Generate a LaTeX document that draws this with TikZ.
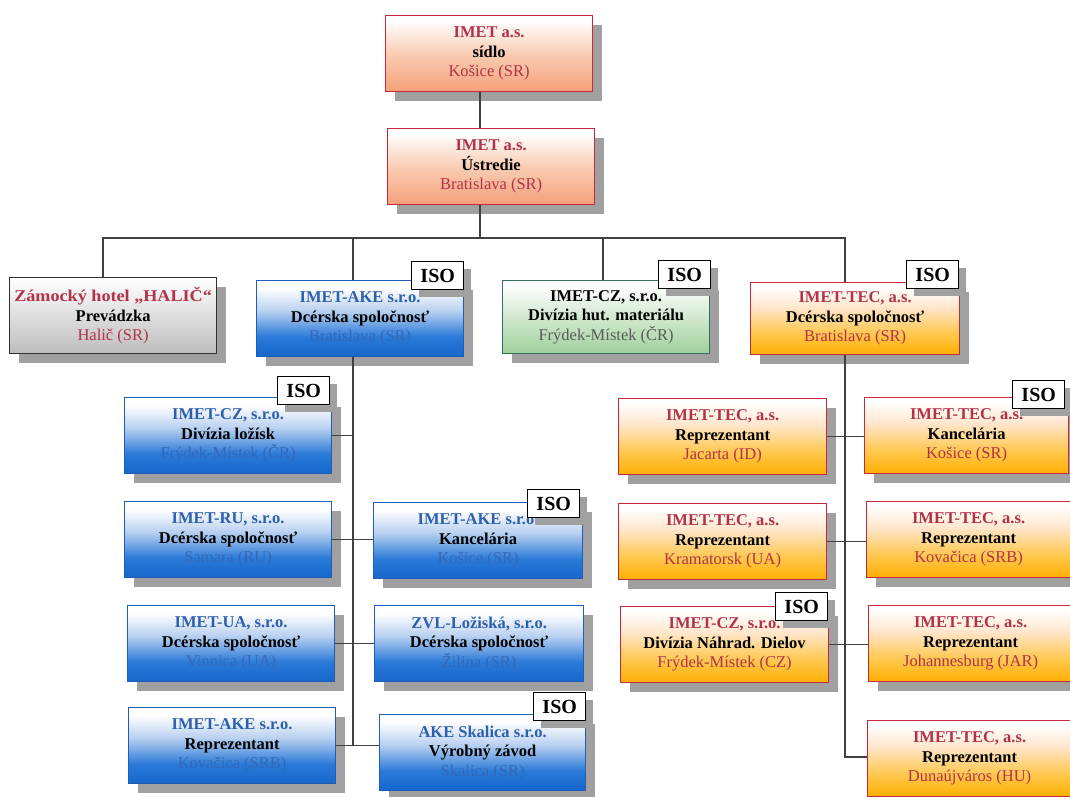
\documentclass[tikz,border=0pt]{standalone}
\usepackage{fontspec}
\setmainfont{Liberation Serif}
\usetikzlibrary{shadows}
\definecolor{redt}{HTML}{B2324A}
\definecolor{redb}{HTML}{C8283C}
\definecolor{bluet}{HTML}{2D5FAE}
\definecolor{bluet3}{HTML}{3567B5}
\definecolor{blueb}{HTML}{1E5DB8}
\definecolor{grayb}{HTML}{303030}
\definecolor{greenb}{HTML}{2F6F66}
\definecolor{greent3}{HTML}{5A5A5A}
\definecolor{shadowgray}{HTML}{A0A0A0}
\definecolor{linegray}{HTML}{404040}
\definecolor{sal}{HTML}{F4A078}
\definecolor{salmid}{HTML}{F9CDB4}
\definecolor{bdeep}{HTML}{1667CC}
\definecolor{bmid}{HTML}{2A7AD8}
\definecolor{blight}{HTML}{B8D0F0}
\definecolor{amber}{HTML}{FFB000}
\definecolor{ambmid}{HTML}{FFC850}
\definecolor{amblight}{HTML}{FFE6CC}
\definecolor{grdeep}{HTML}{BDBDBD}
\definecolor{gndeep}{HTML}{9FD09A}
\pgfdeclareverticalshading{salmonshade}{100bp}{color(0bp)=(sal); color(25bp)=(sal); color(50bp)=(salmid); color(72bp)=(white); color(100bp)=(white)}
\pgfdeclareverticalshading{blueshade}{100bp}{color(0bp)=(bdeep); color(25bp)=(bdeep); color(38bp)=(bmid); color(55bp)=(blight); color(70bp)=(white); color(100bp)=(white)}
\pgfdeclareverticalshading{tecshade}{100bp}{color(0bp)=(amber); color(25bp)=(amber); color(40bp)=(ambmid); color(58bp)=(amblight); color(72bp)=(white); color(100bp)=(white)}
\pgfdeclareverticalshading{grayshade}{100bp}{color(0bp)=(grdeep); color(25bp)=(grdeep); color(75bp)=(white); color(100bp)=(white)}
\pgfdeclareverticalshading{greenshade}{100bp}{color(0bp)=(gndeep); color(25bp)=(gndeep); color(72bp)=(white); color(100bp)=(white)}
\newcommand{\bxt}[5]{\textcolor{#1}{\bfseries #2}\\\textbf{#3}\\\textcolor{#4}{#5}}
\tikzset{
  orgbox/.style={draw, line width=1.2pt, minimum width=207pt, minimum height=76pt,
    inner sep=0pt, align=center, anchor=north west,
    font=\fontsize{16.5}{19.5}\selectfont, shade,
    drop shadow={shadow xshift=9pt, shadow yshift=-9pt, fill=shadowgray, opacity=1}},
  salbox/.style={orgbox, draw=redb, shading=salmonshade},
  bluebox/.style={orgbox, draw=blueb, shading=blueshade},
  tecbox/.style={orgbox, draw=redb, shading=tecshade},
  graybox/.style={orgbox, draw=grayb, shading=grayshade},
  greenbox/.style={orgbox, draw=greenb, shading=greenshade},
  rbox/.style={minimum width=204pt},
  iso/.style={draw=black, line width=1pt, fill=white, minimum width=52pt, minimum height=28pt,
    inner sep=0pt, anchor=north east, font=\bfseries\fontsize{20}{20}\selectfont,
    drop shadow={shadow xshift=7pt, shadow yshift=-7pt, fill=shadowgray, opacity=1}},
  conn/.style={draw=linegray, line width=1.5pt}
}
\begin{document}
\begin{tikzpicture}[x=1pt,y=-1pt]
\useasboundingbox (0,0) rectangle (1070,796);
\fill[white] (0,0) rectangle (1070,796);
% junction coordinates
\coordinate (v0) at (480,238);
\coordinate (b1) at (103,238);
\coordinate (b2) at (353,238);
\coordinate (b3) at (603,238);
\coordinate (b4) at (845,238);
\coordinate (ak) at (353,745);
\coordinate (tk) at (845,757);
% boxes
\node[salbox] (top) at (385,15) {\bxt{redt}{IMET a.s.}{sídlo}{redt}{Košice (SR)}};
\node[salbox] (ustr) at (387,128) {\bxt{redt}{IMET a.s.}{Ústredie}{redt}{Bratislava (SR)}};
\node[graybox] (hotel) at (9,277) {\bxt{redt}{\scalebox{1.1}[1]{Zámocký hotel „HALIČ“}}{Prevádzka}{redt}{Halič (SR)}};
\node[bluebox] (ake) at (256,280) {\bxt{bluet}{IMET-AKE s.r.o.}{Dcérska spoločnosť}{bluet3}{Bratislava (SR)}};
\node[greenbox, minimum height=73pt] (czg) at (502,280) {\bxt{black}{IMET-CZ, s.r.o.}{Divízia hut. materiálu}{greent3}{Frýdek-Místek (ČR)}};
\node[tecbox, minimum width=209pt, minimum height=72pt] (tec) at (750,282) {\bxt{redt}{IMET-TEC, a.s.}{Dcérska spoločnosť}{redt}{Bratislava (SR)}};
\node[bluebox] (czl) at (124,397) {\bxt{bluet}{IMET-CZ, s.r.o.}{Divízia ložísk}{bluet3}{Frýdek-Místek (ČR)}};
\node[bluebox] (ru) at (124,501) {\bxt{bluet}{IMET-RU, s.r.o.}{Dcérska spoločnosť}{bluet3}{Samara (RU)}};
\node[bluebox, minimum width=209pt] (kanc) at (373,502) {\bxt{bluet}{IMET-AKE s.r.o.}{Kancelária}{bluet3}{Košice (SR)}};
\node[bluebox] (ua) at (127,605) {\bxt{bluet}{IMET-UA, s.r.o.}{Dcérska spoločnosť}{bluet3}{Vinnica (UA)}};
\node[bluebox, minimum width=209pt] (zvl) at (374,605) {\bxt{bluet}{ZVL-Ložiská, s.r.o.}{Dcérska spoločnosť}{bluet3}{Žilina (SR)}};
\node[bluebox] (akerep) at (128,707) {\bxt{bluet}{IMET-AKE s.r.o.}{Reprezentant}{bluet3}{Kovačica (SRB)}};
\node[bluebox, minimum width=206pt] (skal) at (379,714) {\bxt{bluet}{AKE Skalica s.r.o.}{Výrobný závod}{bluet3}{Skalica (SR)}};
\node[tecbox, minimum width=208pt] (jac) at (618,398) {\bxt{redt}{IMET-TEC, a.s.}{Reprezentant}{redt}{Jacarta (ID)}};
\node[tecbox, rbox] (tkanc) at (864,397) {\bxt{redt}{IMET-TEC, a.s.}{Kancelária}{redt}{Košice (SR)}};
\node[tecbox, minimum width=208pt] (krm) at (618,503) {\bxt{redt}{IMET-TEC, a.s.}{Reprezentant}{redt}{Kramatorsk (UA)}};
\node[tecbox, rbox] (kov) at (866,501) {\bxt{redt}{IMET-TEC, a.s.}{Reprezentant}{redt}{Kovačica (SRB)}};
\node[tecbox, minimum width=208pt] (czn) at (620,606) {\bxt{redt}{IMET-CZ, s.r.o.}{Divízia Náhrad. Dielov}{redt}{Frýdek-Místek (CZ)}};
\node[tecbox, rbox] (joh) at (868,605) {\bxt{redt}{IMET-TEC, a.s.}{Reprezentant}{redt}{Johannesburg (JAR)}};
\node[tecbox, rbox] (dun) at (867,720) {\bxt{redt}{IMET-TEC, a.s.}{Reprezentant}{redt}{Dunaújváros (HU)}};
% ISO tags
\node[iso] (isoake) at ([yshift=19pt]ake.north east) {ISO};
\node[iso] (isoczg) at ([yshift=20pt,xshift=1pt]czg.north east) {ISO};
\node[iso] (isotec) at ([yshift=22pt,xshift=-1pt]tec.north east) {ISO};
\node[iso] (isoczl) at ([yshift=21pt,xshift=-2pt]czl.north east) {ISO};
\node[iso] (isokanc) at ([yshift=13pt,xshift=-3pt]kanc.north east) {ISO};
\node[iso] (isoskal) at ([yshift=22pt]skal.north east) {ISO};
\node[iso] (isotkanc) at ([yshift=17pt,xshift=-4pt]tkanc.north east) {ISO};
\node[iso] (isoczn) at ([yshift=14pt,xshift=-1pt]czn.north east) {ISO};
% connectors
\draw[conn] (top.south -| v0) -- (ustr.north -| v0);
\draw[conn] (ustr.south -| v0) -- (v0);
\draw[conn] (hotel.north -| b1) -- (b1) -- (b4) -- (tec.north -| b4);
\draw[conn] (ake.north -| b2) -- (b2);
\draw[conn] (czg.north -| b3) -- (b3);
\draw[conn] (ake.south -| ak) -- (ak);
\draw[conn] (czl.east) -- (czl.east -| ak);
\draw[conn] (ru.east) -- (ru.east -| kanc.west);
\draw[conn] (ua.east) -- (ua.east -| zvl.west);
\draw[conn] (akerep.east) -- (akerep.east -| skal.west);
\draw[conn] (tec.south -| tk) -- (tk) -- (tk -| dun.west);
\draw[conn] (jac.east) -- (jac.east -| tkanc.west);
\draw[conn] (krm.east) -- (krm.east -| kov.west);
\draw[conn] (czn.east) -- (czn.east -| joh.west);
\end{tikzpicture}
\end{document}
